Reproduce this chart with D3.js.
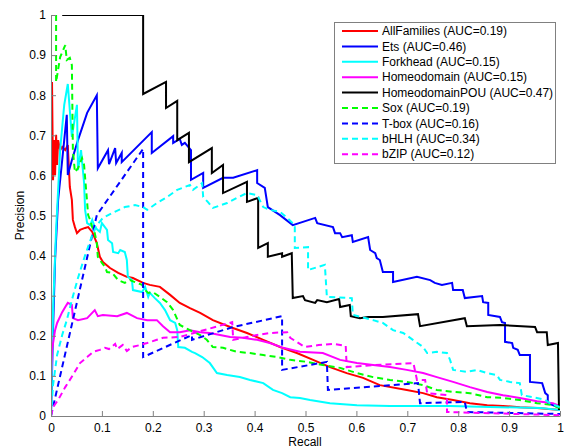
<!DOCTYPE html>
<head>
  <meta charset="utf-8">
  <script src="https://d3js.org/d3.v7.min.js"></script>
  <style>
    body { margin: 0; background: #fff; }
    svg { font-family: "Liberation Sans", Arial, sans-serif; }
  </style>
</head>
<body>
  <div class="chart"></div>
  <script>
    // precision / recall curves, [recall, precision]
    var allFamilies = [[0,1],[0,0.738],[0.002,0.833],[0.004,0.588],[0.006,0.688],[0.008,0.601],[0.010,0.701],[0.012,0.626],[0.014,0.688],[0.018,0.663],[0.022,0.671],[0.028,0.663],[0.033,0.676],[0.037,0.571],[0.041,0.539],[0.043,0.489],[0.047,0.471],[0.051,0.456],[0.057,0.464],[0.067,0.469],[0.073,0.471],[0.081,0.459],[0.090,0.431],[0.096,0.397],[0.102,0.384],[0.116,0.369],[0.132,0.357],[0.149,0.347],[0.161,0.344],[0.181,0.332],[0.194,0.327],[0.214,0.322],[0.234,0.302],[0.253,0.282],[0.273,0.269],[0.293,0.257],[0.318,0.239],[0.352,0.222],[0.385,0.207],[0.417,0.190],[0.450,0.172],[0.483,0.157],[0.515,0.140],[0.548,0.122],[0.581,0.107],[0.613,0.095],[0.646,0.077],[0.699,0.065],[0.731,0.057],[0.758,0.047],[0.790,0.040],[0.823,0.032],[0.857,0.027],[0.888,0.025],[0.921,0.022],[0.955,0.020],[1,0.015]];

    var ets = [[0,0],[0.004,0.214],[0.008,0.389],[0.014,0.539],[0.022,0.638],[0.031,0.751],[0.033,0.601],[0.041,0.638],[0.053,0.688],[0.071,0.756],[0.090,0.800],[0.092,0.618],[0.112,0.663],[0.114,0.628],[0.126,0.668],[0.128,0.631],[0.139,0.656],[0.139,0.633],[0.198,0.708],[0.198,0.656],[0.240,0.698],[0.240,0.681],[0.253,0.691],[0.257,0.676],[0.263,0.681],[0.275,0.663],[0.275,0.589],[0.299,0.606],[0.299,0.569],[0.338,0.594],[0.358,0.594],[0.405,0.613],[0.405,0.581],[0.420,0.569],[0.426,0.521],[0.450,0.501],[0.475,0.476],[0.519,0.494],[0.523,0.481],[0.554,0.471],[0.558,0.456],[0.568,0.456],[0.572,0.446],[0.591,0.451],[0.593,0.434],[0.623,0.446],[0.627,0.414],[0.637,0.406],[0.640,0.394],[0.646,0.389],[0.652,0.359],[0.672,0.359],[0.672,0.334],[0.719,0.347],[0.745,0.339],[0.754,0.332],[0.768,0.327],[0.788,0.332],[0.790,0.314],[0.809,0.314],[0.813,0.294],[0.847,0.299],[0.849,0.284],[0.859,0.282],[0.859,0.252],[0.882,0.247],[0.886,0.234],[0.892,0.232],[0.892,0.185],[0.906,0.182],[0.908,0.170],[0.917,0.165],[0.921,0.152],[0.941,0.152],[0.941,0.085],[0.965,0.082],[0.971,0.057],[0.976,0.052],[0.976,0.032],[1,0.020]];

    var forkhead = [[0,0],[0.004,0.264],[0.010,0.464],[0.018,0.664],[0.026,0.776],[0.033,0.828],[0.041,0.696],[0.051,0.776],[0.053,0.613],[0.059,0.663],[0.065,0.581],[0.067,0.514],[0.071,0.481],[0.077,0.476],[0.081,0.489],[0.086,0.471],[0.096,0.459],[0.100,0.481],[0.110,0.464],[0.112,0.439],[0.120,0.431],[0.122,0.409],[0.132,0.406],[0.136,0.414],[0.145,0.409],[0.149,0.389],[0.151,0.347],[0.159,0.339],[0.161,0.314],[0.179,0.309],[0.185,0.322],[0.191,0.297],[0.194,0.307],[0.204,0.294],[0.214,0.282],[0.224,0.264],[0.234,0.239],[0.244,0.232],[0.248,0.214],[0.250,0.172],[0.263,0.170],[0.277,0.160],[0.283,0.157],[0.297,0.147],[0.312,0.132],[0.326,0.107],[0.346,0.102],[0.371,0.097],[0.391,0.090],[0.417,0.082],[0.436,0.065],[0.454,0.057],[0.470,0.047],[0.489,0.045],[0.509,0.040],[0.548,0.032],[0.601,0.027],[0.666,0.025],[0.784,0.025],[0.882,0.022],[0.961,0.020],[1,0.015]];

    var homeodomain = [[0,0],[0,0.090],[0.002,0.165],[0.008,0.214],[0.012,0.232],[0.022,0.259],[0.028,0.272],[0.033,0.282],[0.041,0.277],[0.043,0.244],[0.053,0.239],[0.071,0.244],[0.086,0.264],[0.092,0.249],[0.102,0.252],[0.130,0.249],[0.149,0.257],[0.169,0.244],[0.189,0.239],[0.208,0.239],[0.220,0.224],[0.234,0.209],[0.253,0.209],[0.273,0.214],[0.293,0.209],[0.312,0.207],[0.332,0.202],[0.352,0.197],[0.377,0.195],[0.405,0.190],[0.430,0.182],[0.456,0.170],[0.489,0.160],[0.534,0.157],[0.568,0.140],[0.601,0.132],[0.633,0.127],[0.666,0.122],[0.699,0.115],[0.731,0.107],[0.758,0.097],[0.790,0.085],[0.823,0.072],[0.857,0.060],[0.888,0.052],[0.921,0.045],[0.955,0.037],[0.986,0.032],[1,0.025]];

    var homeodomainPOU = [[0.022,1],[0.181,1],[0.181,0.803],[0.226,0.833],[0.226,0.768],[0.248,0.786],[0.248,0.688],[0.271,0.706],[0.271,0.633],[0.316,0.668],[0.316,0.606],[0.338,0.626],[0.338,0.556],[0.385,0.584],[0.385,0.534],[0.407,0.544],[0.407,0.419],[0.426,0.431],[0.426,0.397],[0.454,0.406],[0.454,0.397],[0.473,0.406],[0.475,0.294],[0.495,0.299],[0.499,0.289],[0.519,0.282],[0.523,0.289],[0.542,0.284],[0.566,0.292],[0.568,0.272],[0.587,0.277],[0.589,0.249],[0.607,0.244],[0.623,0.247],[0.652,0.247],[0.721,0.254],[0.725,0.224],[0.813,0.244],[0.817,0.224],[0.882,0.227],[0.951,0.222],[0.955,0.209],[0.974,0.209],[0.976,0.177],[0.996,0.182],[0.998,0.015]];

    var sox = [[0.010,1],[0.010,0.833],[0.018,0.895],[0.028,0.925],[0.031,0.888],[0.037,0.893],[0.041,0.875],[0.043,0.663],[0.047,0.608],[0.053,0.618],[0.061,0.643],[0.065,0.626],[0.069,0.564],[0.073,0.501],[0.077,0.489],[0.081,0.471],[0.086,0.456],[0.090,0.431],[0.092,0.397],[0.100,0.382],[0.106,0.372],[0.110,0.359],[0.120,0.357],[0.132,0.339],[0.145,0.332],[0.155,0.339],[0.165,0.334],[0.179,0.327],[0.185,0.314],[0.191,0.307],[0.200,0.309],[0.214,0.297],[0.228,0.284],[0.240,0.264],[0.253,0.227],[0.273,0.214],[0.293,0.202],[0.306,0.190],[0.318,0.172],[0.338,0.170],[0.365,0.160],[0.391,0.157],[0.417,0.152],[0.444,0.147],[0.470,0.140],[0.503,0.135],[0.534,0.127],[0.568,0.120],[0.601,0.107],[0.633,0.097],[0.666,0.090],[0.699,0.085],[0.731,0.077],[0.758,0.065],[0.790,0.060],[0.823,0.057],[0.857,0.047],[0.888,0.045],[0.921,0.040],[0.955,0.032],[0.986,0.027],[1,0.020]];

    var tbox = [[0,0],[0.090,0.501],[0.181,0.666],[0.181,0.147],[0.277,0.202],[0.277,0.190],[0.358,0.222],[0.454,0.249],[0.454,0.115],[0.542,0.135],[0.544,0.065],[0.721,0.082],[0.725,0.032],[0.813,0.035],[0.817,0.010],[1,0.005]];

    var bhlh = [[0,0],[0.004,0.077],[0.012,0.152],[0.022,0.202],[0.031,0.239],[0.041,0.289],[0.053,0.344],[0.067,0.401],[0.081,0.451],[0.090,0.476],[0.102,0.494],[0.120,0.506],[0.145,0.521],[0.165,0.526],[0.181,0.521],[0.189,0.514],[0.208,0.531],[0.228,0.546],[0.248,0.564],[0.273,0.576],[0.279,0.564],[0.297,0.581],[0.299,0.546],[0.308,0.534],[0.318,0.519],[0.346,0.531],[0.365,0.544],[0.385,0.556],[0.405,0.551],[0.417,0.521],[0.430,0.514],[0.450,0.509],[0.464,0.494],[0.479,0.476],[0.479,0.419],[0.505,0.421],[0.505,0.364],[0.538,0.377],[0.542,0.297],[0.591,0.294],[0.593,0.252],[0.633,0.239],[0.652,0.232],[0.672,0.214],[0.692,0.207],[0.711,0.190],[0.731,0.172],[0.739,0.157],[0.758,0.160],[0.778,0.157],[0.784,0.140],[0.790,0.115],[0.817,0.110],[0.837,0.115],[0.857,0.107],[0.876,0.102],[0.882,0.090],[0.902,0.085],[0.921,0.082],[0.925,0.052],[0.947,0.047],[0.971,0.040],[0.980,0.032],[1,0.022]];

    var bzip = [[0,0],[0.004,0.022],[0.014,0.040],[0.028,0.072],[0.043,0.102],[0.057,0.132],[0.071,0.147],[0.083,0.160],[0.096,0.165],[0.106,0.170],[0.114,0.167],[0.126,0.180],[0.130,0.167],[0.141,0.177],[0.149,0.162],[0.159,0.172],[0.175,0.177],[0.189,0.182],[0.208,0.190],[0.220,0.195],[0.253,0.197],[0.356,0.234],[0.358,0.190],[0.385,0.197],[0.405,0.202],[0.430,0.207],[0.464,0.209],[0.470,0.195],[0.499,0.172],[0.526,0.177],[0.554,0.180],[0.579,0.175],[0.581,0.122],[0.633,0.127],[0.712,0.132],[0.719,0.090],[0.735,0.090],[0.739,0.057],[0.778,0.052],[0.778,0.010],[1,0.002]];

    var names = ["AllFamilies", "Ets", "Forkhead", "Homeodomain", "HomeodomainPOU", "Sox", "T-box", "bHLH", "bZIP"];
    var auc = [0.19, 0.46, 0.15, 0.15, 0.47, 0.19, 0.16, 0.34, 0.12];
    var curves = [allFamilies, ets, forkhead, homeodomain, homeodomainPOU, sox, tbox, bhlh, bzip];
    var colors = ["#ff0000", "#0000ff", "#00ffff", "#ff00ff", "#000000", "#00ff00", "#0000ff", "#00ffff", "#ff00ff"];
    var dashed = [false, false, false, false, false, true, true, true, true];

    var xTicks = [0, 0.1, 0.2, 0.3, 0.4, 0.5, 0.6, 0.7, 0.8, 0.9, 1];
    var yTicks = [0, 0.1, 0.2, 0.3, 0.4, 0.5, 0.6, 0.7, 0.8, 0.9, 1];

    (function() {
      var width = 565, height = 448;
      var plotL = 51, plotR = 560, plotT = 15, plotB = 416;

      var svg = d3.select(".chart").append("svg")
        .attr("width", width)
        .attr("height", height);

      var x = d3.scaleLinear().domain([0, 1]).range([plotL, plotR]);
      var y = d3.scaleLinear().domain([0, 1]).range([plotB, plotT]);

      svg.append("defs").append("clipPath")
        .attr("id", "plot")
        .append("rect")
        .attr("x", plotL).attr("y", plotT)
        .attr("width", plotR - plotL).attr("height", plotB - plotT);

      var line = d3.line()
        .x(function(d) { return x(d[0]) })
        .y(function(d) { return y(d[1]) });

      svg.append("g")
        .attr("clip-path", "url(#plot)")
        .selectAll("path")
        .data(curves)
        .enter().append("path")
        .attr("d", line)
        .attr("fill", "none")
        .attr("stroke", function(d, i) { return colors[i] })
        .attr("stroke-width", 2)
        .attr("stroke-dasharray", function(d, i) { return dashed[i] ? "6,4" : null });

      var fmt = function(d) { return (d === 0 || d === 1) ? String(d) : d.toFixed(1) };

      var xAxis = svg.append("g")
        .attr("transform", "translate(0," + plotB + ")")
        .call(d3.axisBottom(x).tickValues(xTicks).tickFormat(fmt).tickSizeInner(-5).tickSizeOuter(0).tickPadding(7));

      var yAxis = svg.append("g")
        .attr("transform", "translate(" + plotL + ",0)")
        .call(d3.axisLeft(y).tickValues(yTicks).tickFormat(fmt).tickSizeInner(-5).tickSizeOuter(0).tickPadding(5));

      [xAxis, yAxis].forEach(function(g) {
        g.select(".domain").attr("stroke", "#808080");
        g.selectAll(".tick line").attr("stroke", "#808080");
        g.selectAll(".tick text").attr("fill", "#000").style("font-size", "12px");
      });

      svg.append("text")
        .attr("x", 305)
        .attr("y", 446)
        .attr("text-anchor", "middle")
        .style("font-size", "12px")
        .text("Recall");

      svg.append("text")
        .attr("transform", "translate(24," + ((plotT + plotB) / 2) + ") rotate(-90)")
        .attr("text-anchor", "middle")
        .style("font-size", "12px")
        .text("Precision");

      // legend
      var legend = svg.append("g");
      legend.append("rect")
        .attr("x", 334.5).attr("y", 22.5)
        .attr("width", 221).attr("height", 141)
        .attr("fill", "#fff")
        .attr("stroke", "#808080");

      var rows = legend.selectAll(".row")
        .data(names)
        .enter().append("g")
        .attr("class", "row")
        .attr("transform", function(d, i) { return "translate(0," + (31 + i * 15.4) + ")" });

      rows.append("line")
        .attr("x1", 342).attr("x2", 378)
        .attr("stroke", function(d, i) { return colors[i] })
        .attr("stroke-width", 2)
        .attr("stroke-dasharray", function(d, i) { return dashed[i] ? "6,4" : null });

      rows.append("text")
        .attr("x", 382)
        .attr("dy", "0.35em")
        .style("font-size", "12px")
        .text(function(d, i) { return d + " (AUC=" + auc[i].toFixed(2) + ")" });
    })();
  </script>
</body>
